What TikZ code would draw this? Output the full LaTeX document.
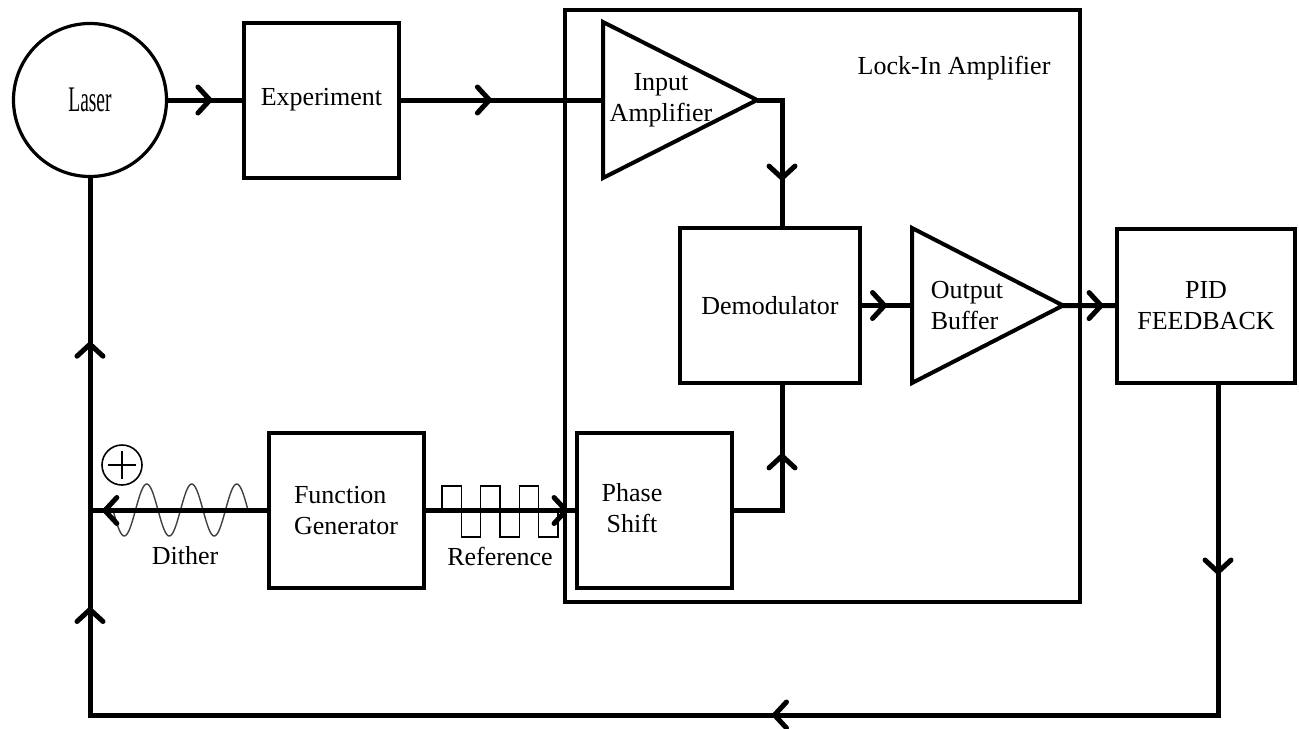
\documentclass[tikz,border=0pt]{standalone}
\usepackage{fontspec}
\setmainfont{Liberation Serif}
\usepackage{graphicx}
\usetikzlibrary{arrows.meta,decorations.markings}

\tikzset{
  blk/.style={draw, line width=2pt, minimum width=77.5pt, minimum height=77.5pt, inner sep=0pt, align=center},
  amp/.style={draw, line width=2pt, line join=miter},
  conn/.style={line width=2.5pt},
  wave/.style={line width=0.7pt},
  midarrow/.style={postaction={decorate, decoration={markings,
      mark=at position #1 with {\arrow{Straight Barb[length=6pt,width=13pt,round]}}}}},
  every node/.style={font=\fontsize{13}{15.5}\selectfont}
}

\begin{document}
\begin{tikzpicture}[x=0.5pt, y=-0.5pt]
\useasboundingbox (0,0) rectangle (1299,728);

\node[draw, circle, line width=1.6pt, minimum size=76.5pt, inner sep=0pt] (laser) at (90,100)
  {\scalebox{0.54}[1]{\fontsize{18}{20}\selectfont Laser}};
\node[blk] (exp) at (321.5,100) {Experiment};

\node[draw, line width=2pt, minimum width=257.5pt, minimum height=296pt, inner sep=0pt] (lockin) at (822.5,306) {};
\node (lockintxt) at (954,68) {Lock-In Amplifier};

\draw[amp] (603,22) -- (603,178) -- (757,100) -- cycle;
\coordinate (inamp-in) at (603,100);
\coordinate (inamp-out) at (757,100);
\node[align=center] (inamp) at (661,100) {Input\\Amplifier};

\node[blk, minimum width=90pt] (demod) at (770,305.5) {Demodulator};

\draw[amp] (912,228) -- (912,383) -- (1063,305.5) -- cycle;
\coordinate (outbuf-in) at (912,305.5);
\coordinate (outbuf-out) at (1063,305.5);
\node[align=left] (outbuf) at (967,306) {Output\\Buffer};

\node[blk, minimum width=89pt, minimum height=77pt] (pid) at (1206,306) {PID\\FEEDBACK};

\node[blk, align=left] (fg) at (346,510.5) {Function\\Generator};
\node[blk] (phase) at (654,510.5) {};
\node[align=center] (phasetxt) at (632,508) {Phase\\Shift};

\node[draw, circle, line width=0.8pt, minimum size=20pt, inner sep=0pt,
  path picture={\draw[line width=0.8pt] ([xshift=-7pt]path picture bounding box.center) -- ([xshift=7pt]path picture bounding box.center)
    ([yshift=-7pt]path picture bounding box.center) -- ([yshift=7pt]path picture bounding box.center);}] (sum) at (122,465) {};
\node (dither) at (185,556) {Dither};
\node (reftxt) at (500,556) {Reference};

\coordinate (fb) at (1218,715);
\coordinate (demod-n) at (782,228);
\coordinate (demod-s) at (782,383);

\draw[wave, black!75] plot[domain=113:248, samples=150] (\x, {510 + 26*sin(8*(\x-113))});
\draw[wave] (442,510) -- (442,486) -- (461.3,486) -- (461.3,537) -- (480.6,537) -- (480.6,486)
  -- (499.9,486) -- (499.9,537) -- (519.2,537) -- (519.2,486) -- (538.5,486) -- (538.5,537)
  -- (557.8,537) -- (557.8,510);

\draw[conn, midarrow=0.6] (laser) -- (exp);
\draw[conn, midarrow=0.45] (exp) -- (inamp-in);
\draw[conn, midarrow=0.69] (inamp-out) -| (demod-n);
\draw[conn, midarrow=0.5] (demod) -- (outbuf-in);
\draw[conn, midarrow=0.78] (outbuf-out) -- (pid);
\draw[conn, midarrow=0.095, midarrow=0.389, midarrow=0.785, midarrow=0.918] (pid.south -| fb) -- (fb) -| (laser.south);
\draw[conn, midarrow=0.93] (fg) -- (fg -| laser);
\draw[conn, midarrow=0.96] (fg) -- (phase);
\draw[conn, midarrow=0.6] (phase) -| (demod-s);
\end{tikzpicture}
\end{document}
